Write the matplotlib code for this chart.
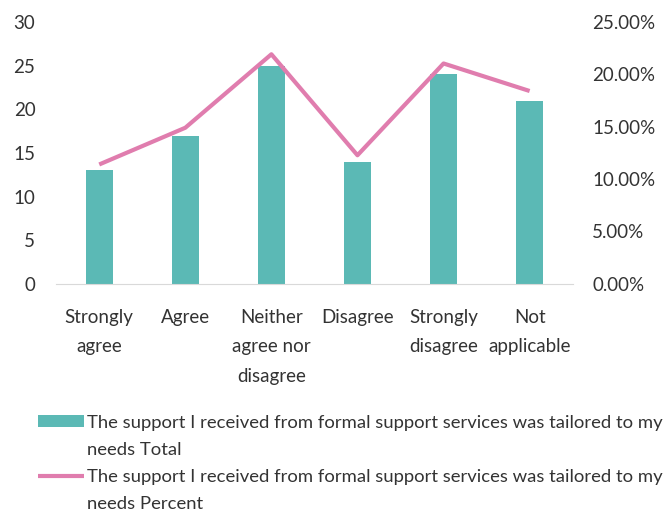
import matplotlib.pyplot as plt
from matplotlib.lines import Line2D
import numpy as np

plt.rcParams['font.family'] = ['Lato', 'DejaVu Sans']

categories = ["Strongly\nagree", "Agree", "Neither\nagree nor\ndisagree",
              "Disagree", "Strongly\ndisagree", "Not\napplicable"]
totals = [13, 17, 25, 14, 24, 21]
percents = [0.1140, 0.1491, 0.2193, 0.1228, 0.2105, 0.1842]
series_name = "The support I received from formal support services was tailored to my"

teal = '#5BB9B5'
pink = '#E07DAE'
txt = '#333333'

fig = plt.figure(figsize=(6.69, 5.15), dpi=100)
ax = fig.add_axes([0.084, 0.449, 0.772, 0.508])
ax2 = ax.twinx()

x = np.arange(len(categories))
bars = ax.bar(x, totals, width=0.31, color=teal, zorder=2)
line, = ax2.plot(x, percents, color=pink, lw=3, solid_capstyle='butt', zorder=3)

ax.set_xlim(-0.5, len(categories) - 0.5)
ax.set_ylim(0, 30)
ax2.set_ylim(0, 0.25)
ax.set_yticks(range(0, 31, 5))
pct_ticks = np.arange(0, 0.2501, 0.05)
ax2.set_yticks(pct_ticks)
ax2.set_yticklabels([f"{v*100:.2f}%" for v in pct_ticks])

ax.set_xticks(x)
ax.set_xticklabels(categories)
for t in ax.get_xticklabels():
    t.set_linespacing(1.9)
    t.set_fontsize(13.5)

for a in (ax, ax2):
    for s in a.spines.values():
        s.set_visible(False)
    a.tick_params(length=0, colors=txt)
ax.tick_params(axis='y', labelsize=13.5, pad=15)
ax2.tick_params(axis='y', labelsize=13.5, pad=14)
ax.tick_params(axis='x', pad=18)
ax.spines['bottom'].set_visible(True)
ax.spines['bottom'].set_color('#D9D9D9')

# legend: long series names wrap onto a second row without a key
blank = Line2D([], [], alpha=0)
leg = fig.legend(handles=[bars, blank, line, blank],
                 labels=[series_name, "needs Total", series_name, "needs Percent"],
                 loc='upper left', bbox_to_anchor=(0.057, 0.195),
                 frameon=False, fontsize=13.3, handlelength=2.5, handleheight=0.6,
                 handletextpad=0.15, labelspacing=0.6, borderaxespad=0, borderpad=0,
                 labelcolor=txt)

fig.savefig('out.png', dpi=100)
